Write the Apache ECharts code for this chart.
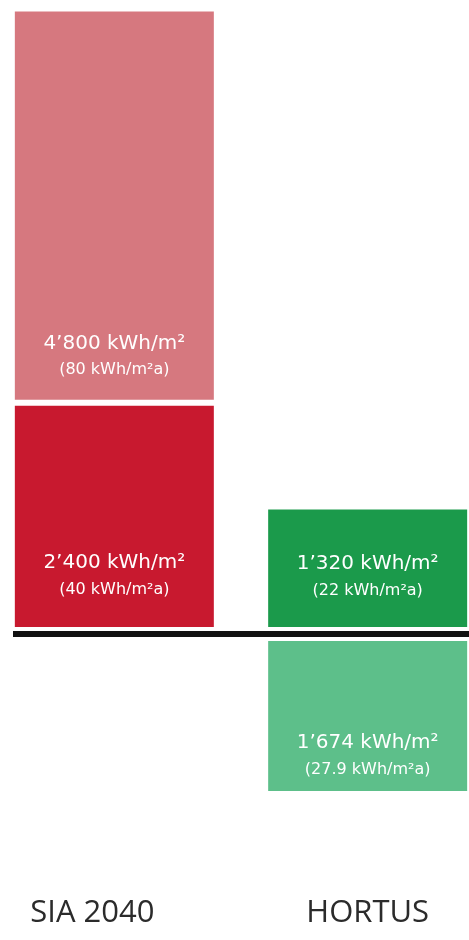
<!DOCTYPE html>
<html>
<head>
<meta charset="utf-8">
<script src="https://cdn.jsdelivr.net/npm/echarts@6/dist/echarts.min.js"></script>
<style>
  html, body { margin: 0; padding: 0; background: #fff; }
  #chart { width: 469px; height: 940px; }
</style>
</head>
<body>
<div id="chart"></div>
<script>
// categories and values (kWh/m2 over 60 years, and per year)
var categories = ['SIA 2040', 'HORTUS'];
var categoryPos = [0, 1];
var lowerValues = [2400, 1320];
var lowerYearly = [40, 22];
var upperValues = [4800, -1674];
var upperYearly = [80, 27.9];

var lowerColors = ['#c8192f', '#1b9a4b'];
var upperColors = ['#d6787f', '#5dbf8a'];

function fmt(v) {
	v = Math.abs(v);
	var s = String(v);
	if (v >= 1000) {
		s = Math.floor(v / 1000) + '\u2019' + String(v % 1000).padStart(3, '0');
	}
	return s;
}

function labelText(v, y) {
	return '{a|' + fmt(v) + ' kWh/m\u00b2}\n{b|(' + y + ' kWh/m\u00b2a)}';
}

var labelRich = {
	a: { fontSize: 20, fontFamily: 'DejaVu Sans', color: '#fff', lineHeight: 27 },
	b: { fontSize: 16, fontFamily: 'DejaVu Sans', color: '#fff', lineHeight: 27 }
};

// value first, x position second (so the stack runs on the value dimension)
function buildData(values, yearly, colors, distances) {
	return values.map(function (v, i) {
		return {
			value: [v, categoryPos[i]],
			itemStyle: { color: colors[i] },
			label: {
				show: true,
				position: 'insideBottom',
				distance: distances[i],
				formatter: labelText(v, yearly[i]),
				rich: labelRich
			}
		};
	});
}

var chart = echarts.init(document.getElementById('chart'));

var option = {
	animation: false,
	grid: { left: 13, right: 0, top: 10, bottom: 80 },
	xAxis: {
		type: 'value',
		min: -0.4,
		max: 1.4,
		splitLine: { show: false },
		axisLine: { show: false, onZero: false },
		axisTick: { show: false },
		axisLabel: {
			customValues: categoryPos,
			margin: 38,
			color: '#2b2b2b',
			fontSize: 31,
			fontFamily: 'Open Sans',
			formatter: function (v) {
				var i = categoryPos.indexOf(v);
				if (i === 0) return '{l|' + categories[i] + '}';
				return categories[i] || '';
			},
			rich: {
				l: { fontSize: 31, fontFamily: 'Open Sans', color: '#2b2b2b', padding: [0, 44, 0, 0] }
			}
		}
	},
	yAxis: {
		type: 'value',
		min: -2360,
		max: 6490,
		show: false,
		splitLine: { show: false }
	},
	series: [
		{
			name: 'lower',
			type: 'bar',
			stack: 'total',
			barWidth: 205,
			encode: { x: 1, y: 0 },
			itemStyle: { borderColor: '#fff', borderWidth: 3 },
			data: buildData(lowerValues, lowerYearly, lowerColors, [30, 29]),
			markLine: {
				silent: true,
				symbol: ['none', 'none'],
				label: { show: false },
				lineStyle: { color: '#fff', width: 14, type: 'solid' },
				data: [{ yAxis: 0 }]
			}
		},
		{
			name: 'upper',
			type: 'bar',
			stack: 'total',
			barWidth: 205,
			encode: { x: 1, y: 0 },
			itemStyle: { borderColor: '#fff', borderWidth: 3 },
			data: buildData(upperValues, upperYearly, upperColors, [19, 11]),
			markLine: {
				silent: true,
				symbol: ['none', 'none'],
				label: { show: false },
				lineStyle: { color: '#111', width: 6, type: 'solid' },
				data: [{ yAxis: 0 }]
			}
		}
	]
};

chart.setOption(option);
</script>
</body>
</html>
